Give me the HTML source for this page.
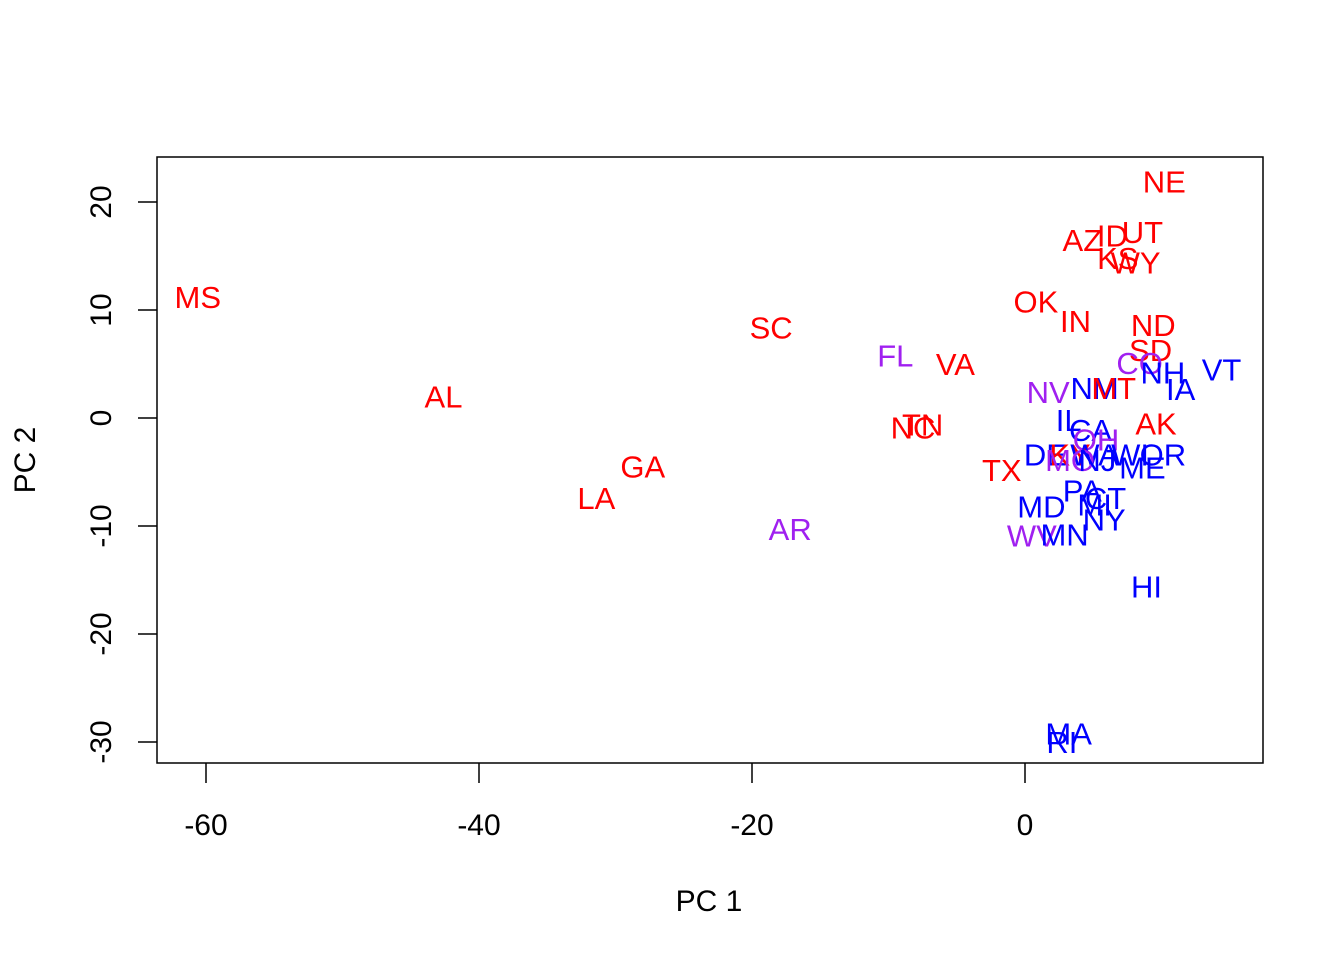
<!DOCTYPE html>
<html><head><meta charset="utf-8"><style>
html,body{margin:0;padding:0;background:#fff;}
svg text{font-family:"Liberation Sans",Arial,sans-serif;}
</style></head><body>
<svg id="chart" width="1344" height="960" viewBox="0 0 1344 960" xmlns="http://www.w3.org/2000/svg">
<rect x="0" y="0" width="1344" height="960" fill="#fff"/>
<g id="marks"></g>
<rect x="157" y="157" width="1106" height="606" fill="none" stroke="#000" stroke-width="1.5"/>
<g id="axes"></g>
<text x="709" y="911" font-size="30" text-anchor="middle">PC 1</text>
<text transform="translate(35,460) rotate(-90)" font-size="30" text-anchor="middle">PC 2</text>
</svg>
<script>
const states=["MS","AL","GA","LA","SC","FL","VA","TN","NC","TX","AR","NE","AZ","ID","UT","KS","WY","OK","IN","ND","SD","CO","NH","VT","IA","NM","MT","NV","IL","CA","AK","OH","DE","KY","WA","WI","OR","MO","NJ","ME","PA","CT","MI","NY","MD","WV","MN","HI","MA","RI"];
const pc1=[-60.6,-42.6,-28.0,-31.4,-18.6,-9.5,-5.1,-7.5,-8.2,-1.7,-17.2,10.2,4.2,6.4,8.6,6.8,8.1,0.8,3.7,9.4,9.2,8.4,10.1,14.4,11.4,5.1,6.5,1.7,3.2,4.8,9.6,5.2,1.5,3.3,5.1,7.7,10.1,3.3,5.3,8.6,4.2,5.9,5.1,5.8,1.2,0.5,2.9,8.9,3.2,2.7];
const pc2=[11.2,2.0,-4.5,-7.4,8.4,5.8,5.0,-0.6,-0.9,-4.8,-10.3,21.9,16.5,16.9,17.2,14.8,14.4,10.8,9.0,8.6,6.3,5.1,4.2,4.5,2.7,2.8,2.8,2.4,-0.2,-1.1,-0.5,-2.0,-3.4,-3.4,-3.4,-3.4,-3.4,-3.9,-3.9,-4.6,-6.7,-7.4,-8.0,-9.4,-8.2,-10.9,-10.8,-15.6,-29.2,-30.0];
const groups=["r","r","r","r","r","p","r","r","r","r","p","r","r","r","r","r","r","r","r","r","r","p","b","b","b","b","r","p","b","b","r","p","b","r","b","b","b","p","b","b","b","b","b","b","b","p","b","b","b","b"];
const xTicks=[-60,-40,-20,0];
const yTicks=[-30,-20,-10,0,10,20];
const colors={r:"#FF0000",b:"#0000FF",p:"#A020F0"};
const NS="http://www.w3.org/2000/svg";
function sx(v){return 1025+v*13.65;}
function sy(v){return 418-v*10.8;}
const marks=document.getElementById('marks');
states.forEach((s,i)=>{
  const t=document.createElementNS(NS,'text');
  t.setAttribute('x',sx(pc1[i]));
  t.setAttribute('y',sy(pc2[i])+11);
  t.setAttribute('font-size','31');
  t.setAttribute('text-anchor','middle');
  t.setAttribute('fill',colors[groups[i]]);
  t.textContent=s;
  
  
  marks.appendChild(t);
});
const axes=document.getElementById('axes');
xTicks.forEach(v=>{
  const l=document.createElementNS(NS,'line');
  l.setAttribute('x1',sx(v));l.setAttribute('x2',sx(v));
  l.setAttribute('y1',763);l.setAttribute('y2',783);
  l.setAttribute('stroke','#000');l.setAttribute('stroke-width','1.5');
  
  
  axes.appendChild(l);
  const t=document.createElementNS(NS,'text');
  t.setAttribute('x',sx(v));t.setAttribute('y',835);
  t.setAttribute('font-size','30');t.setAttribute('text-anchor','middle');
  t.textContent=String(v);
  
  
  axes.appendChild(t);
});
yTicks.forEach(v=>{
  const l=document.createElementNS(NS,'line');
  l.setAttribute('x1',138);l.setAttribute('x2',157);
  l.setAttribute('y1',sy(v));l.setAttribute('y2',sy(v));
  l.setAttribute('stroke','#000');l.setAttribute('stroke-width','1.5');
  
  
  axes.appendChild(l);
  const t=document.createElementNS(NS,'text');
  t.setAttribute('transform','translate(111,'+sy(v)+') rotate(-90)');
  t.setAttribute('font-size','30');t.setAttribute('text-anchor','middle');
  t.textContent=String(v);
  
  
  axes.appendChild(t);
});
</script>
</body></html>
